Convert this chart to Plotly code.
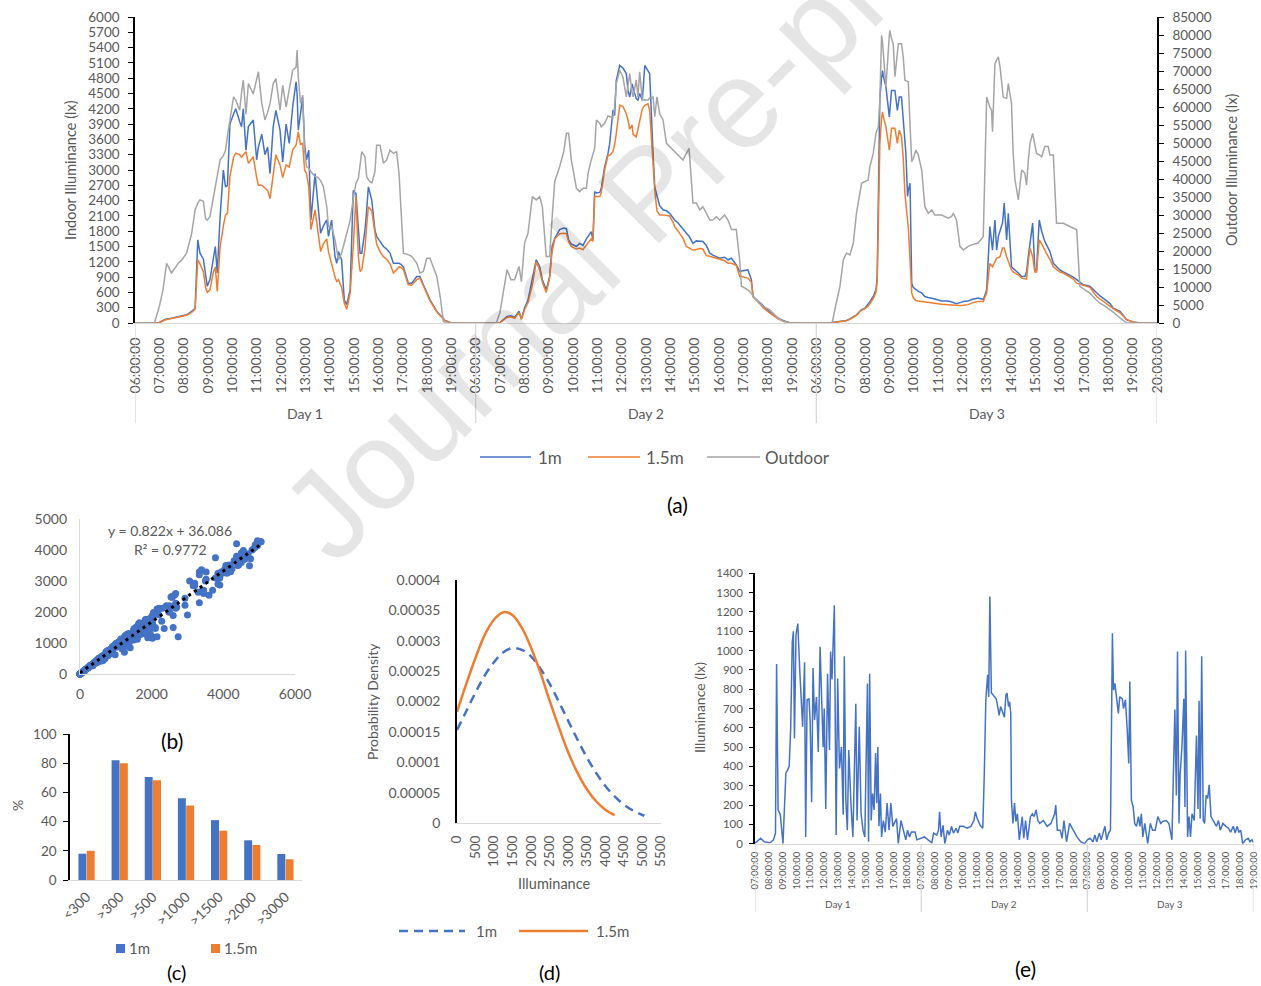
import plotly.graph_objects as go

# ---------------- Panel (a): indoor (1m, 1.5m) and outdoor illuminance ----------------
day_names = ["Day 1", "Day 2", "Day 3"]
a_tick_hours = [list(range(6, 20)), list(range(6, 20)), list(range(6, 21))]

d1_clock = [6.0, 6.8, 7.0, 7.15, 7.3, 7.5, 7.78, 7.92, 8.12, 8.33,
            8.47, 8.58, 8.67, 8.81, 8.9, 8.97, 9.08, 9.22, 9.3, 9.38,
            9.5, 9.63, 9.72, 9.8, 9.9, 10.05, 10.14, 10.3, 10.38, 10.45,
            10.56, 10.66, 10.86, 11.0, 11.07, 11.21, 11.34, 11.45, 11.55, 11.68,
            11.79, 11.96, 12.07, 12.21, 12.34, 12.48, 12.62, 12.66, 12.71, 12.8,
            12.89, 12.97, 13.05, 13.14, 13.23, 13.4, 13.53, 13.63, 13.74, 13.88,
            13.95, 14.08, 14.22, 14.29, 14.36, 14.49, 14.6, 14.7, 14.84, 14.97,
            15.08, 15.18, 15.25, 15.32, 15.45, 15.52, 15.59, 15.73, 15.86, 15.93,
            16.07, 16.21, 16.34, 16.48, 16.62, 16.75, 16.85, 16.93, 17.03, 17.23,
            17.37, 17.58, 17.71, 17.85, 17.99, 18.12, 18.4, 18.47, 18.55, 18.67,
            18.74, 18.95, 19.2, 19.95]
d1_1m = [0, 0, 10, 50, 80, 95, 120, 130, 160, 230,
         290, 1630, 1370, 1250, 900, 720, 850, 1300, 1500, 980,
         2100, 3000, 2670, 2700, 3900, 4100, 4200, 3950, 3850, 4200,
         3390, 3850, 3980, 3200, 3450, 3700, 3300, 3450, 2930, 3850,
         4170, 3780, 3160, 3900, 3520, 4240, 4730, 4500, 3780, 4100,
         4430, 3500, 3200, 3390, 2020, 2930, 2280, 1760, 1900, 2020,
         1700, 2020, 1300, 1170, 1400, 1240, 456, 360, 650, 2600,
         2540, 1700, 1370, 1370, 1820, 2200, 2670, 2410, 1820, 1700,
         1600, 1500, 1450, 1370, 1170, 1170, 1170, 1150, 1100, 780,
         780, 910, 910, 750, 590, 460, 230, 190, 150, 80,
         50, 10, 0, 0]
d1_15m = [0, 0, 5, 40, 70, 90, 115, 125, 150, 210,
          270, 1240, 1160, 1000, 700, 600, 650, 1000, 1100, 620,
          1500, 1900, 2120, 2150, 2870, 3250, 3330, 3300, 3250, 3300,
          3360, 3130, 3260, 2850, 2700, 2700, 2640, 2600, 2440, 2900,
          3300, 3100, 2850, 3100, 3060, 3390, 3490, 3600, 3750, 3500,
          3520, 3000, 2930, 2670, 1830, 2220, 1700, 1400, 1550, 1650,
          1400, 1150, 900, 815, 850, 700, 390, 270, 580, 1500,
          2480, 1300, 1010, 1050, 1450, 1900, 2280, 2200, 1750, 1550,
          1400, 1300, 1250, 1160, 980, 1050, 1100, 1090, 1050, 750,
          740, 850, 880, 730, 560, 440, 220, 180, 140, 70,
          45, 10, 0, 0]
d1_out = [0, 0, 4600, 9200, 16600, 13900, 16600, 17500, 19400, 24900,
          31400, 33300, 34200, 33800, 29000, 28600, 29600, 35100, 38000, 41600,
          45300, 46500, 48000, 52000, 56400, 62800, 61900, 59100, 64000, 67500,
          58000, 66500, 63600, 68400, 69800, 61000, 56400, 58500, 61000, 66500,
          67900, 59100, 66000, 60000, 64700, 70200, 71100, 75800, 68400, 61000,
          63300, 48000, 43400, 43000, 42000, 40700, 40400, 39500, 37900, 32300,
          26800, 26800, 23100, 20000, 17500, 19400, 22500, 25000, 28500, 34500,
          38800, 40200, 44000, 47600, 46200, 40700, 39800, 38800, 42000, 49400,
          49400, 44400, 45300, 48000, 47100, 47600, 41600, 30000, 19400, 19000,
          18500, 16600, 13900, 14300, 18000, 18000, 13000, 10200, 7000, 500,
          0, 0, 0, 0]

d2_clock = [6.0, 6.85, 7.0, 7.29, 7.45, 7.6, 7.78, 7.88, 8.01, 8.15,
            8.33, 8.49, 8.63, 8.74, 8.9, 9.04, 9.14, 9.25, 9.45, 9.62,
            9.73, 9.82, 9.93, 10.14, 10.27, 10.41, 10.55, 10.62, 10.75, 10.82,
            10.89, 10.96, 11.1, 11.16, 11.3, 11.44, 11.51, 11.64, 11.71, 11.78,
            11.92, 12.05, 12.19, 12.26, 12.33, 12.43, 12.47, 12.6, 12.67, 12.74,
            12.85, 12.95, 13.08, 13.15, 13.29, 13.36, 13.45, 13.56, 13.7, 13.84,
            13.97, 14.11, 14.18, 14.32, 14.52, 14.66, 14.77, 14.93, 15.07, 15.21,
            15.34, 15.48, 15.62, 15.75, 15.89, 16.03, 16.23, 16.37, 16.51, 16.71,
            16.85, 16.92, 17.19, 17.33, 17.4, 17.67, 17.81, 18.08, 18.42, 18.63,
            18.9, 19.2, 19.95]
d2_1m = [0, 0, 10, 130, 140, 110, 230, 80, 300, 450,
         900, 1240, 1110, 850, 650, 910, 1500, 1660, 1830, 1860,
         1850, 1630, 1550, 1500, 1560, 1520, 1650, 1700, 1790, 1630,
         2575, 2550, 2560, 2640, 3060, 3330, 3520, 4170, 4070, 4760,
         5050, 5000, 4890, 4560, 4430, 4690, 4600, 4400, 4370, 4500,
         4370, 5050, 4950, 4890, 3330, 2670, 2500, 2300, 2220, 2200,
         2150, 2050, 2020, 1960, 1830, 1760, 1700, 1560, 1610, 1600,
         1600, 1520, 1370, 1330, 1300, 1270, 1290, 1240, 1270, 1140,
         1010, 1020, 1040, 850, 520, 400, 330, 220, 100, 50,
         5, 0, 0]
d2_15m = [0, 0, 5, 110, 120, 90, 200, 70, 260, 400,
          750, 1200, 1050, 800, 600, 880, 1400, 1650, 1750, 1760,
          1750, 1600, 1500, 1450, 1470, 1440, 1520, 1560, 1650, 1600,
          2480, 2480, 2480, 2550, 3000, 3290, 3290, 3360, 3500, 3720,
          4270, 4250, 4100, 3980, 3800, 3880, 3700, 3650, 3800, 3900,
          4200, 4270, 4300, 4170, 3200, 2600, 2200, 2120, 2120, 2110,
          2100, 1980, 1890, 1800, 1660, 1500, 1470, 1430, 1440, 1460,
          1450, 1320, 1310, 1290, 1270, 1240, 1220, 1170, 1170, 1130,
          910, 910, 880, 800, 510, 380, 300, 200, 80, 40,
          5, 0, 0]
d2_out = [0, 0, 3000, 14800, 12000, 12000, 15700, 11500, 22200, 24900,
          35100, 34200, 35100, 32300, 18500, 18500, 29000, 39300, 43400, 47600,
          52700, 52700, 45300, 37400, 36500, 37400, 37400, 41600, 45300, 47000,
          48500, 56400, 55500, 54500, 55500, 57500, 57300, 57000, 60000, 66500,
          70200, 68400, 62800, 66000, 69300, 64000, 62800, 67500, 62800, 69800,
          61900, 62000, 61900, 62500, 62800, 57300, 62800, 58200, 56400, 49900,
          49000, 48000, 47500, 46700, 45300, 47100, 48500, 33300, 33300, 31400,
          32300, 30500, 28600, 28600, 29500, 28600, 30000, 28600, 26000, 26000,
          17500, 10200, 9200, 8300, 7400, 5500, 4600, 3700, 1400, 500,
          0, 0, 0]

d3_clock = [6.0, 6.5, 6.65, 6.8, 6.97, 7.11, 7.24, 7.38, 7.52, 7.65,
            7.79, 7.86, 8.0, 8.13, 8.2, 8.34, 8.45, 8.5, 8.55, 8.61,
            8.68, 8.72, 8.75, 8.86, 9.0, 9.02, 9.09, 9.16, 9.23, 9.33,
            9.37, 9.41, 9.5, 9.57, 9.64, 9.68, 9.75, 9.78, 9.85, 9.92,
            9.98, 10.09, 10.19, 10.33, 10.46, 10.6, 10.74, 10.87, 11.15, 11.42,
            11.56, 11.63, 11.76, 11.9, 12.04, 12.24, 12.38, 12.65, 12.86, 12.93,
            13.0, 13.13, 13.2, 13.24, 13.34, 13.41, 13.48, 13.55, 13.65, 13.68,
            13.72, 13.82, 13.89, 14.02, 14.09, 14.16, 14.3, 14.44, 14.57, 14.64,
            14.71, 14.78, 14.89, 14.98, 15.05, 15.16, 15.26, 15.39, 15.53, 15.6,
            15.74, 15.87, 16.01, 16.15, 16.42, 16.56, 16.7, 16.83, 16.97, 17.24,
            17.52, 17.66, 17.86, 18.07, 18.2, 18.48, 18.75, 19.02, 19.3, 20.0]
d3_1m = [0, 0, 10, 20, 30, 40, 50, 80, 120, 160,
         230, 260, 290, 360, 420, 520, 650, 900, 2500, 4400,
         4800, 4950, 4850, 4630, 4040, 4200, 4560, 4560, 4560, 4170,
         4300, 4430, 4430, 3980, 3600, 3330, 2480, 2600, 2740, 780,
         700, 650, 620, 590, 520, 500, 490, 470, 430, 430,
         410, 400, 380, 400, 420, 430, 460, 490, 460, 550,
         650, 1890, 1600, 1430, 2020, 1430, 1700, 1830, 1960, 2100,
         2350, 1630, 2150, 1100, 1060, 1040, 980, 910, 910, 1000,
         1300, 1600, 1960, 1040, 1040, 2020, 1800, 1600, 1470, 1400,
         1170, 1100, 1040, 1000, 940, 900, 850, 800, 750, 720,
         590, 530, 460, 380, 290, 230, 65, 20, 0, 0]
d3_15m = [0, 0, 5, 15, 25, 35, 45, 70, 110, 150,
          220, 250, 280, 330, 380, 480, 600, 800, 2000, 3500,
          4000, 4140, 4050, 3850, 3390, 3500, 3820, 3820, 3820, 3520,
          3650, 3780, 3650, 3260, 2540, 2300, 2000, 1890, 1200, 590,
          500, 440, 430, 420, 410, 400, 390, 380, 370, 360,
          355, 350, 340, 345, 350, 360, 390, 420, 420, 500,
          590, 1170, 1120, 1100, 1200, 1270, 1280, 1300, 1470, 1470,
          1470, 1300, 1200, 1040, 1000, 980, 940, 880, 870, 860,
          1200, 1470, 1300, 1000, 1000, 1630, 1550, 1420, 1300, 1250,
          1100, 1050, 1000, 980, 910, 860, 780, 760, 740, 700,
          520, 470, 400, 330, 280, 200, 65, 20, 0, 0]
d3_out = [0, 0, 0, 5000, 10200, 17600, 19400, 18900, 22200, 30500,
          36000, 38800, 39300, 39700, 43400, 47100, 52700, 54000, 54500, 61900,
          79900, 78000, 75800, 65600, 80000, 81300, 79000, 77600, 68400, 74000,
          77600, 77600, 77600, 74000, 67500, 67300, 67100, 67000, 55000, 44800,
          45700, 48000, 46700, 42500, 32300, 30500, 31400, 30000, 30000, 29100,
          29600, 30500, 28600, 21300, 20300, 21300, 21700, 22200, 24000, 43400,
          62800, 60000, 59100, 53100, 72000, 73000, 73900, 71100, 65000, 62800,
          62600, 62400, 66500, 61000, 47100, 40000, 34200, 42500, 41600, 38300,
          45000, 49900, 52700, 50000, 47100, 46700, 46200, 49000, 49000, 46700,
          46700, 27700, 27700, 27700, 26800, 26300, 25900, 10200, 9500, 8300,
          6300, 5500, 4700, 3700, 3000, 1400, 0, 0, 0, 0]

# ---------------- Panel (b): regression between 1m and 1.5m ----------------
b_slope = 0.822
b_intercept = 36.086
b_equation = "y = 0.822x + 36.086"
b_r2 = "R² = 0.9772"

# ---------------- Panel (c): share of time above thresholds ----------------
c_cats = ["<300", ">300", ">500", ">1000", ">1500", ">2000", ">3000"]
c_1m = [18, 82, 70.5, 56, 41, 27.2, 17.8]
c_15m = [20, 80, 68.3, 51, 33.8, 24, 14.2]

# ---------------- Panel (d): probability density ----------------
d_x_1m = [0, 250, 500, 750, 1000, 1250, 1500, 1750, 2000, 2250, 2500,
          2750, 3000, 3250, 3500, 3750, 4000, 4250, 4500, 4750, 5000, 5050]
d_pdf_1m = [0.000153, 0.000184, 0.000215, 0.000243, 0.000265, 0.000281, 0.000288,
            0.000285, 0.000274, 0.000254, 0.000229, 0.000199, 0.000168, 0.000137,
            0.000108, 0.0000826, 0.0000610, 0.0000437, 0.0000303, 0.0000203,
            0.0000132, 0.0000120]
d_x_15m = [0, 250, 500, 750, 1000, 1250, 1500, 1750, 2000, 2250, 2500,
           2750, 3000, 3250, 3500, 3750, 4000, 4250]
d_pdf_15m = [0.000183, 0.000229, 0.000272, 0.000310, 0.000335, 0.000347, 0.000342,
             0.000321, 0.000288, 0.000247, 0.000201, 0.000157, 0.000116, 0.0000824,
             0.0000556, 0.0000358, 0.0000220, 0.0000129]
d_xticks = [0, 500, 1000, 1500, 2000, 2500, 3000, 3500, 4000, 4500, 5000, 5500]
d_yticks = [0, 0.00005, 0.0001, 0.00015, 0.0002, 0.00025, 0.0003, 0.00035, 0.0004]
d_ytext = ["0", "0.00005", "0.0001", "0.00015", "0.0002", "0.00025", "0.0003", "0.00035", "0.0004"]

# ---------------- Panel (e): illuminance difference over time ----------------
e_tick_hours = [list(range(7, 19)), list(range(7, 19)), list(range(7, 20))]
e_hours = [0.00, 0.13, 0.40, 0.67, 1.08, 1.34, 1.48, 1.56, 1.67, 1.83,
           2.02, 2.23, 2.34, 2.47, 2.58, 2.69, 2.77, 2.85, 2.96, 3.09,
           3.23, 3.44, 3.58, 3.66, 3.76, 3.90, 3.98, 4.09, 4.19, 4.30,
           4.44, 4.57, 4.70, 4.78, 4.92, 5.00, 5.11, 5.24, 5.38, 5.46,
           5.56, 5.73, 5.86, 5.97, 6.10, 6.24, 6.37, 6.45, 6.56, 6.67,
           6.77, 6.94, 7.07, 7.28, 7.37, 7.53, 7.66, 7.80, 7.93, 8.12,
           8.20, 8.28, 8.39, 8.49, 8.60, 8.71, 8.79, 8.87, 8.95, 9.06,
           9.14, 9.27, 9.41, 9.54, 9.68, 9.81, 9.95, 10.22, 10.35, 10.54,
           10.75, 10.89, 11.02, 11.16, 11.29, 11.56, 11.69, 11.96,
           12.23, 12.50, 12.77, 12.90, 13.12, 13.25, 13.33, 13.44, 13.58, 13.71,
           13.90, 14.03, 14.19, 14.33, 14.52, 14.65, 14.78, 15.05, 15.32, 15.59,
           15.81, 15.91, 16.05, 16.26, 16.45, 16.56, 16.67, 16.80, 16.88, 16.96,
           17.07, 17.20, 17.42, 17.53, 17.63, 17.74, 17.88, 18.01, 18.12, 18.20,
           18.31, 18.39, 18.47, 18.52, 18.63, 18.74, 18.84, 18.95, 19.09, 19.30,
           19.41, 19.54, 19.68, 19.89, 20.03, 20.16, 20.30, 20.43, 20.56, 20.83,
           21.10, 21.37, 21.64, 21.72, 21.83, 22.04, 22.18, 22.31, 22.50, 22.72,
           22.98, 23.25, 23.52, 23.79, 24.01,
           24.19, 24.41, 24.54, 24.68, 24.87, 25.00, 25.27, 25.40, 25.54, 25.67,
           25.81, 25.89, 25.99, 26.13, 26.24, 26.34, 26.53, 26.61, 26.75, 26.88,
           26.99, 27.07, 27.18, 27.31, 27.42, 27.55, 27.69, 27.80, 27.90, 28.01,
           28.15, 28.36, 28.55, 28.71, 28.90, 29.09, 29.30, 29.44, 29.70, 29.89,
           30.11, 30.32, 30.43, 30.51, 30.62, 30.70, 30.83, 30.97, 31.05, 31.10,
           31.24, 31.34, 31.45, 31.56, 31.72, 31.88, 31.99, 32.07, 32.15, 32.26,
           32.37, 32.47, 32.58, 32.69, 32.80, 32.93, 33.06, 33.20, 33.33, 33.47,
           33.60, 33.79, 34.01, 34.19, 34.35, 34.54, 34.68, 34.81, 34.95, 35.08,
           35.22, 35.43, 35.62, 35.75, 35.89, 36.00]
e_lux = [5, 10, 28, 10, 5, 20, 55, 930, 175, 150,
         0, 365, 380, 400, 605, 1040, 1100, 545, 1080, 1140,
         900, 605, 940, 35, 745, 750, 640, 215, 910, 640,
         760, 475, 1020, 855, 500, 700, 180, 880, 485, 995,
         850, 1235, 45, 855, 390, 500, 150, 970, 225, 70,
         485, 190, 35, 725, 120, 605, 155, 70, 35, 830,
         10, 880, 120, 260, 175, 470, 210, 500, 90, 260,
         35, 120, 60, 210, 70, 210, 90, 130, 0, 120,
         60, 20, 70, 35, 60, 60, 20, 28,
         35, 20, 5, 55, 45, 70, 165, 35, 95, 0,
         70, 45, 90, 55, 80, 55, 90, 90, 80, 90,
         120, 165, 130, 95, 80, 365, 745, 875, 760, 1280,
         780, 770, 750, 710, 665, 710, 675, 655, 770, 780,
         710, 735, 675, 225, 105, 210, 115, 155, 20, 140,
         28, 120, 20, 140, 155, 140, 175, 120, 105, 120,
         90, 105, 155, 200, 70, 70, 28, 120, 10, 105,
         70, 35, 10, 0, 20,
         28, 10, 45, 10, 55, 20, 90, 20, 55, 70,
         1090, 795, 830, 745, 675, 760, 750, 700, 745, 590,
         415, 840, 225, 190, 105, 90, 140, 90, 155, 35,
         105, 0, 105, 70, 70, 140, 105, 115, 120, 105,
         20, 695, 250, 995, 105, 355, 500, 750, 190, 1000,
         35, 140, 35, 155, 120, 560, 180, 740, 130, 970,
         120, 105, 250, 235, 305, 140, 120, 105, 90, 120,
         70, 105, 90, 80, 60, 90, 55, 90, 60, 70,
         0, 20, 28, 10, 20, 5]

# ---------------- helpers ----------------
W, H = 1261, 986
FONT = "Lato"
TXT = "#595959"
BLUE, ORANGE, GRAY = "#4472C4", "#ED7D31", "#A5A5A5"
AXG = "#D9D9D9"


def fx(p):
    return p / W


def fy(p):
    return 1 - p / H


def to_x(day_index, clocks):
    return [day_index * 14 + (c - 6) for c in clocks]


for cl, s1, s2, s3 in [(d1_clock, d1_1m, d1_15m, d1_out),
                       (d2_clock, d2_1m, d2_15m, d2_out),
                       (d3_clock, d3_1m, d3_15m, d3_out)]:
    assert len(cl) == len(s1) == len(s2) == len(s3), (len(cl), len(s1), len(s2), len(s3))
assert len(e_hours) == len(e_lux), (len(e_hours), len(e_lux))

a_x = to_x(0, d1_clock) + to_x(1, d2_clock) + to_x(2, d3_clock)
a_1m = d1_1m + d2_1m + d3_1m
a_15m = d1_15m + d2_15m + d3_15m
a_out = d1_out + d2_out + d3_out

a_tickvals, a_ticktext = [], []
for d, hours in enumerate(a_tick_hours):
    for h in hours:
        a_tickvals.append(d * 14 + h - 6)
        a_ticktext.append(f"{h:02d}:00:00")

e_tickvals, e_ticktext = [], []
for d, hours in enumerate(e_tick_hours):
    for h in hours:
        e_tickvals.append(d * 12 + h - 7)
        e_ticktext.append(f"{h:02d}:00:00")

fig = go.Figure()

# (a)
fig.add_trace(go.Scatter(x=a_x, y=a_1m, mode="lines", name="1m",
                         line=dict(color=BLUE, width=1.5), xaxis="x", yaxis="y", cliponaxis=False))
fig.add_trace(go.Scatter(x=a_x, y=a_15m, mode="lines", name="1.5m",
                         line=dict(color=ORANGE, width=1.5), xaxis="x", yaxis="y", cliponaxis=False))
fig.add_trace(go.Scatter(x=a_x, y=a_out, mode="lines", name="Outdoor",
                         line=dict(color=GRAY, width=1.5), xaxis="x", yaxis="y2", cliponaxis=False))

# (b)
fig.add_trace(go.Scatter(x=a_1m, y=a_15m, mode="markers",
                         marker=dict(color=BLUE, size=7), xaxis="x2", yaxis="y3", cliponaxis=False))
tr_x = [min(a_1m), max(a_1m)]
tr_y = [b_slope * v + b_intercept for v in tr_x]
fig.add_trace(go.Scatter(x=tr_x, y=tr_y, mode="lines",
                         line=dict(color="black", width=3, dash="3px,4px"),
                         xaxis="x2", yaxis="y3", cliponaxis=False))

# (c)
fig.add_trace(go.Bar(x=c_cats, y=c_1m, marker=dict(color=BLUE), xaxis="x3", yaxis="y4", name="1m"))
fig.add_trace(go.Bar(x=c_cats, y=c_15m, marker=dict(color=ORANGE), xaxis="x3", yaxis="y4", name="1.5m"))

# (d)
fig.add_trace(go.Scatter(x=d_x_1m, y=d_pdf_1m, mode="lines", line_shape="spline",
                         line=dict(color=BLUE, width=2.5, dash="9px,6px"),
                         xaxis="x4", yaxis="y5", cliponaxis=False))
fig.add_trace(go.Scatter(x=d_x_15m, y=d_pdf_15m, mode="lines", line_shape="spline",
                         line=dict(color=ORANGE, width=2.5),
                         xaxis="x4", yaxis="y5", cliponaxis=False))

# (e)
fig.add_trace(go.Scatter(x=e_hours, y=e_lux, mode="lines",
                         line=dict(color=BLUE, width=1.5), xaxis="x5", yaxis="y6", cliponaxis=False))

tf = lambda s: dict(family=FONT, size=s, color=TXT)
common = dict(showgrid=False, zeroline=False, automargin=False)

fig.update_layout(
    width=W, height=H, autosize=False,
    margin=dict(l=0, r=0, t=0, b=0, pad=0),
    paper_bgcolor="white", plot_bgcolor="rgba(0,0,0,0)",
    font=dict(family=FONT, color=TXT),
    showlegend=False, template="none",
    barmode="group", bargap=0.5, bargroupgap=0.04,
    # (a)
    xaxis=dict(domain=[fx(135), fx(1157)], range=[0, 42], anchor="y",
               tickmode="array", tickvals=a_tickvals, ticktext=a_ticktext, tickangle=-90,
               tickfont=tf(14), showline=True, linecolor=AXG, linewidth=1.3, ticks="",
               ticklabelstandoff=8, **common),
    yaxis=dict(domain=[fy(323), fy(17)], range=[0, 6000], tick0=0, dtick=300, tickformat="d",
               anchor="x", showline=True, linecolor="black", linewidth=1.5,
               ticks="outside", ticklen=5, tickcolor="black", tickfont=tf(13.5),
               ticklabelstandoff=6, **common),
    yaxis2=dict(range=[0, 85000], tick0=0, dtick=5000, tickformat="d", overlaying="y", side="right",
                anchor="x", showline=True, linecolor="black", linewidth=1.5,
                ticks="outside", ticklen=5, tickcolor="black", tickfont=tf(13.5),
                ticklabelstandoff=6, **common),
    # (b)
    xaxis2=dict(domain=[fx(80), fx(295)], range=[0, 6000], dtick=2000, tickformat="d", anchor="y3",
                showline=True, linecolor=AXG, linewidth=1.3, ticks="", tickfont=tf(14),
                ticklabelstandoff=7, **common),
    yaxis3=dict(domain=[fy(674), fy(519)], range=[0, 5000], dtick=1000, tickformat="d", anchor="x2",
                showline=True, linecolor=AXG, linewidth=1.3, ticks="", tickfont=tf(14),
                ticklabelstandoff=9, **common),
    # (c)
    xaxis3=dict(domain=[fx(70), fx(302)], type="category", anchor="y4", tickangle=-45,
                showline=True, linecolor=AXG, linewidth=1.3, ticks="", tickfont=tf(14),
                ticklabelstandoff=2, **common),
    yaxis4=dict(domain=[fy(880), fy(734)], range=[0, 100], dtick=20, tickformat="d", anchor="x3",
                showline=True, linecolor="black", linewidth=1.5, ticks="outside", ticklen=5,
                tickcolor="black", tickfont=tf(13.5), ticklabelstandoff=4, **common),
    # (d)
    xaxis4=dict(domain=[fx(457), fx(661)], range=[0, 5500], tickmode="array", tickvals=d_xticks,
                ticktext=[str(v) for v in d_xticks], tickangle=-90, anchor="y5",
                showline=True, linecolor=AXG, linewidth=1.3, ticks="", tickfont=tf(13.5),
                ticklabelstandoff=6, **common),
    yaxis5=dict(domain=[fy(823), fy(580)], range=[0, 0.0004], tickmode="array", tickvals=d_yticks,
                ticktext=d_ytext, anchor="x4", showline=True, linecolor="black", linewidth=1.5,
                ticks="", tickfont=tf(14), ticklabelstandoff=12, **common),
    # (e)
    xaxis5=dict(domain=[fx(755), fx(1253.5)], range=[0, 36], tickmode="array", tickvals=e_tickvals,
                ticktext=e_ticktext, tickangle=-90, anchor="y6",
                showline=True, linecolor=AXG, linewidth=1.3, ticks="", tickfont=tf(9.5),
                ticklabelstandoff=3, **common),
    yaxis6=dict(domain=[fy(843.7), fy(573.3)], range=[0, 1400], dtick=100, tickformat="d", anchor="x5",
                showline=True, linecolor="black", linewidth=1.5, ticks="outside", ticklen=4,
                tickcolor="black", tickfont=tf(11.5), ticklabelstandoff=4, **common),
)


def ann(text, x, y, size, color=TXT, angle=0, xanchor="center", xref="paper", yref="paper",
        family=FONT):
    return dict(text=text, x=x, y=y, xref=xref, yref=yref, showarrow=False,
                font=dict(family=family, size=size, color=color), textangle=angle,
                xanchor=xanchor, yanchor="middle")


annotations = [
    # watermark (runs off the top edge, as in the original)
    ann("Journal Pre-proof", fx(648), fy(192), 126, color="rgba(0,0,0,0.10)", angle=-45,
        family="Liberation Sans"),
    # (a)
    ann("Indoor Illuminance (lx)", fx(70), fy(170), 14.5, angle=-90),
    ann("Outdoor Illuminance (lx)", fx(1231), fy(170), 14.5, angle=-90),
    ann("(a)", fx(677), fy(504), 21, color="black"),
    # (b)
    ann(b_equation, fx(170), fy(530), 14),
    ann(b_r2, fx(170), fy(549), 14),
    ann("(b)", fx(172), fy(740), 21, color="black"),
    # (c)
    ann("%", fx(17), fy(806), 14, angle=-90),
    ann("1m", fx(127), fy(948), 15, xanchor="left"),
    ann("1.5m", fx(222), fy(948), 15, xanchor="left"),
    ann("(c)", fx(176), fy(972), 20, color="black"),
    # (d)
    ann("Probability Density", fx(372), fy(702), 14, angle=-90),
    ann("Illuminance", fx(554), fy(883), 14.5),
    ann("1m", fx(474), fy(931), 15, xanchor="left"),
    ann("1.5m", fx(594), fy(931), 15, xanchor="left"),
    ann("(d)", fx(549), fy(972), 20, color="black"),
    # (e)
    ann("Illuminance (lx)", fx(699), fy(708), 14, angle=-90),
    ann("(e)", fx(1025), fy(968), 21, color="black"),
    # (a) legend texts
    ann("1m", fx(536), fy(457), 17, xanchor="left"),
    ann("1.5m", fx(644), fy(457), 17, xanchor="left"),
    ann("Outdoor", fx(763), fy(457), 17, xanchor="left"),
]
for i, name in enumerate(day_names):
    annotations.append(ann(name, 7 + 14 * i, fy(413), 14, xref="x"))
    annotations.append(ann(name, 6 + 12 * i, fy(904), 10, xref="x5"))

shapes = []
for xv in [0, 14, 28, 42]:
    shapes.append(dict(type="line", xref="x", yref="paper", x0=xv, x1=xv, y0=fy(323), y1=fy(423),
                       line=dict(color=AXG, width=1.3)))
for xv in [0, 12, 24, 36]:
    shapes.append(dict(type="line", xref="x5", yref="paper", x0=xv, x1=xv, y0=fy(843.7), y1=fy(912),
                       line=dict(color=AXG, width=1.3)))
# legend samples
for (x0, x1, col) in [(480, 531, BLUE), (588, 640, ORANGE), (707, 760, GRAY)]:
    shapes.append(dict(type="line", xref="paper", yref="paper", x0=fx(x0), x1=fx(x1),
                       y0=fy(457), y1=fy(457), line=dict(color=col, width=1.5)))
for (x0, col) in [(116, BLUE), (211, ORANGE)]:
    shapes.append(dict(type="rect", xref="paper", yref="paper", x0=fx(x0), x1=fx(x0 + 9),
                       y0=fy(953), y1=fy(944), fillcolor=col, line=dict(width=0)))
shapes.append(dict(type="line", xref="paper", yref="paper", x0=fx(399), x1=fx(465),
                   y0=fy(931), y1=fy(931), line=dict(color=BLUE, width=2.5, dash="9px,6px")))
shapes.append(dict(type="line", xref="paper", yref="paper", x0=fx(519), x1=fx(588),
                   y0=fy(931), y1=fy(931), line=dict(color=ORANGE, width=2.5)))

fig.update_layout(annotations=annotations, shapes=shapes)
fig.write_html("out.html")
